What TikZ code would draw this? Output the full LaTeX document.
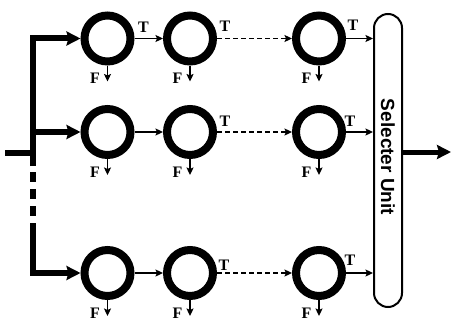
\documentclass[tikz,border=0pt]{standalone}
\usepackage{fontspec}
\setmainfont{Liberation Serif}
\newfontfamily\selfont{Liberation Sans}
\usetikzlibrary{arrows.meta}
\tikzset{
  ring/.style={circle, draw, line width=8pt, minimum size=46pt, inner sep=0pt},
  thinarrow/.style={line width=1.6pt, -{Stealth[length=7.5pt,width=7pt,inset=1.5pt]}},
  dasharrow/.style={thinarrow, dash pattern=on 4.5pt off 3.5pt},
  thickarrow/.style={line width=6pt, line join=miter, -{Stealth[length=14pt,width=14pt,inset=2pt]}},
  busline/.style={line width=6pt},
  lab/.style={font=\bfseries\fontsize{16}{16}\selectfont, inner sep=0pt},
  selbox/.style={draw, line width=2pt, rounded corners=14pt, minimum width=28pt, minimum height=293pt, inner sep=0pt},
}
\begin{document}
\begin{tikzpicture}[x=1pt,y=-1pt]
\useasboundingbox (0,0) rectangle (452,321);
% circles
\foreach \r/\y in {1/38.5,2/132,3/273}{
  \node[ring] (c\r1) at (107.5,\y) {};
  \node[ring] (c\r2) at (190,\y) {};
  \node[ring] (c\r3) at (319,\y) {};
}
% selector
\node[selbox] (sel) at (388,160.5) {};
\node[rotate=-90, font=\selfont\bfseries\fontsize{19}{19}\selectfont, inner sep=0pt] (sellab) at (388,157) {Selecter Unit};
% input bus
\coordinate (in) at (5,153);
\coordinate (bj) at (33,153);
\coordinate (btop) at (33,38.5);
\coordinate (bmid) at (33,132);
\coordinate (bbot) at (33,273);
\coordinate (ds) at (33,166);
\coordinate (de) at (33,225);
\draw[busline] (in) -- (bj);
\draw[thickarrow] (ds) -- (btop) -- (c11.west);
\draw[thickarrow] (bmid) -- (c21.west);
\draw[thickarrow] (de) -- (bbot) -- (c31.west);
\draw[busline, dash pattern=on 10pt off 7pt] ([yshift=-6pt]ds) -- (de);
% chains
\foreach \r in {1,2,3}{
  \draw[thinarrow] (c\r1.east) -- (c\r2.west);
  \draw[dasharrow] (c\r2.east) -- (c\r3.west);
  \draw[thinarrow] (c\r3.east) -- (sel.west |- c\r3.east);
  \foreach \c in {1,2,3}{
    \draw[thinarrow] (c\r\c.south) -- ++(0,16) coordinate (f\r\c);
    \node[lab] (F\r\c) at ([xshift=-12.5pt,yshift=3pt]f\r\c) {F};
  }
}
% T labels
\node[lab] (T11) at ([xshift=36pt,yshift=11.5pt]c11.center) {T};
\node[lab] (T12) at ([xshift=35pt,yshift=12pt]c12.center) {T};
\node[lab] (T13) at ([xshift=34pt,yshift=13pt]c13.center) {T};
\node[lab] (T22) at ([xshift=35pt,yshift=11pt]c22.center) {T};
\node[lab] (T23) at ([xshift=31pt,yshift=11pt]c23.center) {T};
\node[lab] (T32) at ([xshift=34pt,yshift=8pt]c32.center) {T};
\node[lab] (T33) at ([xshift=31pt,yshift=13pt]c33.center) {T};
% output
\coordinate (out) at (451,152);
\draw[line width=5pt, -{Stealth[length=14pt,width=14pt,inset=2pt]}] (sel.east |- out) -- (out);
\end{tikzpicture}
\end{document}
